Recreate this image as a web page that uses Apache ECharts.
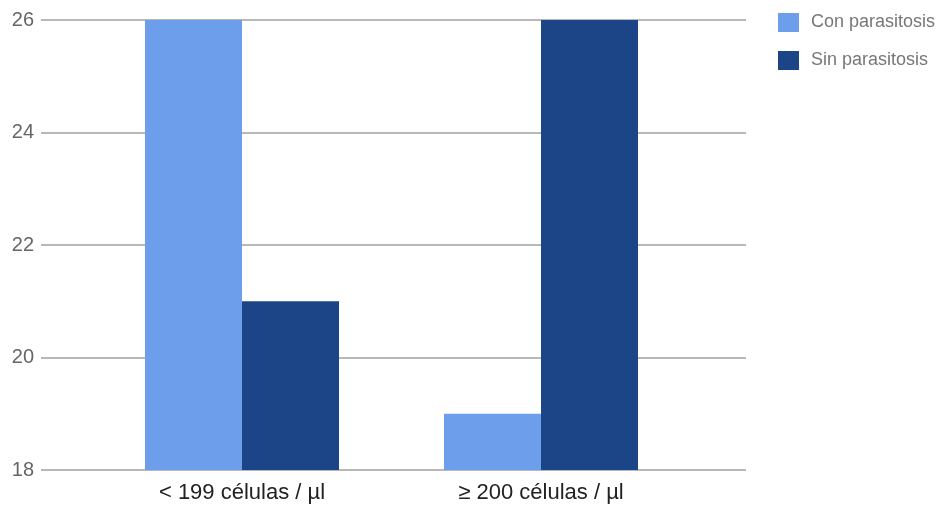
<!DOCTYPE html>
<html><head><meta charset="utf-8">
<script src="https://cdn.jsdelivr.net/npm/echarts@6/dist/echarts.min.js"></script>
<style>html,body{margin:0;padding:0;background:#fff}#c{width:941px;height:508px}</style>
</head><body><div id="c"></div>
<script>
const categories = ['< 199 células / µl', '≥ 200 células / µl'];
const conParasitosis = [26, 19];
const sinParasitosis = [21, 26];
const seriesNames = ['Con parasitosis', 'Sin parasitosis'];
const yMin = 18, yMax = 26, yStep = 2;

const chart = echarts.init(document.getElementById('c'));
const font = 'Arial, "Liberation Sans", sans-serif';
chart.setOption({
  animation: false,
  grid: [
    {left: 41, right: 195, top: 20, bottom: 38},
    {left: 92.5, right: 250.5, top: 20, bottom: 38}
  ],
  legend: {
    orient: 'vertical', left: 773, top: 8, itemWidth: 21, itemHeight: 19, itemGap: 19,
    icon: 'rect',
    textStyle: {color: '#777', fontSize: 18, fontFamily: font, padding: [0, 0, 0, 7]},
    data: seriesNames
  },
  xAxis: [
    {type: 'category', gridIndex: 0, data: categories, show: false},
    {type: 'category', gridIndex: 1, data: categories,
     axisLine: {show: false}, axisTick: {show: false},
     axisLabel: {color: '#222', fontSize: 22, fontFamily: font, margin: 12}}
  ],
  yAxis: [
    {type: 'value', gridIndex: 0, min: yMin, max: yMax, interval: yStep,
     axisLine: {show: false}, axisTick: {show: false},
     axisLabel: {color: '#666', fontSize: 20, fontFamily: font, margin: 7},
     splitLine: {lineStyle: {color: '#a0a0a0', width: 1.5}}},
    {type: 'value', gridIndex: 1, min: yMin, max: yMax, interval: yStep, show: false}
  ],
  series: [
    {name: seriesNames[0], type: 'bar', xAxisIndex: 1, yAxisIndex: 1, data: conParasitosis,
     barWidth: 97, barGap: '0%', itemStyle: {color: '#6d9eeb'}},
    {name: seriesNames[1], type: 'bar', xAxisIndex: 1, yAxisIndex: 1, data: sinParasitosis,
     barWidth: 97, barGap: '0%', itemStyle: {color: '#1c4587'}}
  ]
});
</script></body></html>
